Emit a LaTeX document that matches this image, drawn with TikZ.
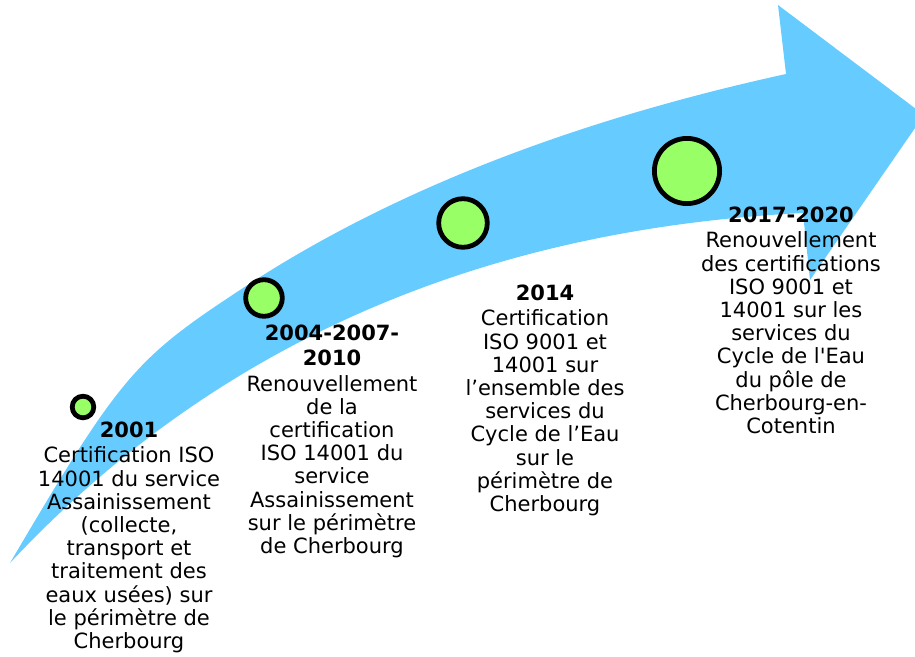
\documentclass[tikz,border=0pt]{standalone}
\usepackage{fontspec}
\setmainfont{DejaVu Sans}
\definecolor{arrowblue}{RGB}{102,204,255}
\definecolor{dotgreen}{RGB}{153,255,102}
\begin{document}
\begin{tikzpicture}[x=1pt,y=-1pt,
  dot/.style={circle,draw=black,line width=4.8pt,fill=dotgreen,inner sep=0pt},
  stagetext/.style={align=center,inner sep=0pt,anchor=north,
    font=\fontsize{21}{23.2}\selectfont}]
\useasboundingbox (0,0) rectangle (915,656);
\begin{scope}
\clip (0,0) rectangle (915,656);
\fill[arrowblue] (10,563)
  .. controls (120,376) and (135,359) .. (240,290)
  .. controls (385,194) and (567,122) .. (786,74)
  -- (778,5) -- (924,115) -- (810,280) -- (803,213)
  .. controls (477,229.5) and (213,346) .. (10,563)
  -- cycle;
\end{scope}

\node[dot,minimum size=21.6pt] (c1) at (83,407) {};
\node[dot,minimum size=36.6pt] (c2) at (264,298) {};
\node[dot,minimum size=48.6pt] (c3) at (463,223) {};
\node[dot,minimum size=65.2pt] (c4) at (687,171) {};

\node[stagetext] (t1) at (129,422) {{\bfseries 2001}\\[2pt]
  Certification ISO\\ 14001 du service\\ Assainissement\\ (collecte,\\
  transport et\\ traitement des\\ eaux usées) sur\\ le périmètre de\\ Cherbourg};
\node[stagetext] (t2) at (332,325) {{\bfseries 2004-2007-}\\[2pt]{\bfseries 2010}\\[2pt]
  Renouvellement\\ de la\\ certification\\ ISO 14001 du\\ service\\
  Assainissement\\ sur le périmètre\\ de Cherbourg};
\node[stagetext] (t3) at (545,285) {{\bfseries 2014}\\[2pt]
  Certification\\ ISO 9001 et\\ 14001 sur\\ l’ensemble des\\ services du\\
  Cycle de l’Eau\\ sur le\\ périmètre de\\ Cherbourg};
\node[stagetext] (t4) at (791,207) {{\bfseries 2017-2020}\\[2pt]
  Renouvellement\\ des certifications\\ ISO 9001 et\\ 14001 sur les\\ services du\\
  Cycle de l\textquotesingle Eau\\ du pôle de\\ Cherbourg-en-\\ Cotentin};
\end{tikzpicture}
\end{document}
